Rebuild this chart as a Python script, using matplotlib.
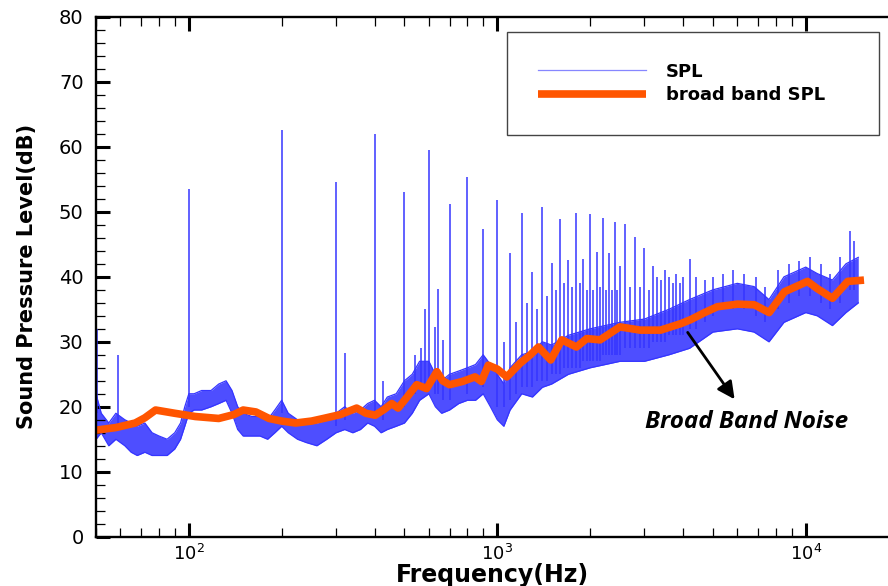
import numpy as np
import matplotlib.pyplot as plt
from matplotlib.lines import Line2D
from matplotlib.ticker import MultipleLocator, LogLocator, NullFormatter

# SPL noise band: frequency, lower edge, upper edge
band_f = [50, 52, 55, 58, 62, 65, 68, 72, 76, 80, 85, 90, 94, 97, 100, 104, 110, 118, 125,
          132, 138, 144, 150, 160, 170, 180, 190, 200, 210, 225, 240, 260, 280, 300, 320, 340,
          360, 380, 400, 420, 440, 470, 500, 530, 560, 600, 630, 660, 700, 750, 800, 850, 900,
          950, 1000, 1050, 1100, 1200, 1300, 1400, 1500, 1700, 2000, 2500, 3000, 3600, 4200,
          5000, 6000, 6800, 7600, 8500, 10000, 10900, 12200, 13500, 14800]
band_lo = [15, 16, 14, 15, 14, 13, 12.5, 13, 12.5, 12.5, 12.5, 13.5, 15, 17, 19, 19.5, 19.5, 20, 20.5,
           21, 19, 16.5, 15.5, 15.5, 15.5, 15, 16, 17, 16, 15, 14.5, 14, 15, 16, 16.5, 16,
           16.5, 17.5, 17, 16, 16.5, 17, 17.5, 19, 21, 22, 20, 19, 19.5, 20.5, 21, 21, 22,
           20, 18, 17, 19.5, 22, 21.5, 23, 23.5, 25, 26, 27, 27, 28, 29,
           31.5, 32, 31.5, 30, 33, 34.5, 34, 32.5, 34.5, 36]
band_hi = [22, 19, 17.5, 19, 18, 17.5, 17, 17.5, 16, 15.5, 15, 16, 17.5, 20, 22, 22, 22.5, 22.5, 23.5,
           24, 22.5, 20, 19, 18.5, 18.5, 18, 19.5, 21, 19, 18, 18, 17.5, 18, 19, 20, 19,
           19.5, 20.5, 21, 20, 21.5, 22, 24, 25, 27, 27, 25, 24, 25, 25.5, 26, 26.5, 28,
           26.5, 25, 23.5, 26, 28, 28.5, 30, 29.5, 31, 32, 33, 33.5, 35, 36.5,
           38, 39, 38.5, 36.5, 40, 41.5, 40.5, 39.5, 42, 43]

# tonal spikes: frequency, base level, peak level
peak_f = [50.5, 59, 100, 200, 300, 320, 400, 427, 500, 540, 565, 583, 600, 626, 644, 669, 700, 800,
          900, 1000, 1050, 1100, 1150, 1200, 1250, 1300, 1350, 1400, 1450, 1500, 1550, 1600,
          1650, 1700, 1750, 1800, 1850, 1900, 1950, 2000, 2050, 2100, 2150, 2200, 2250, 2300,
          2350, 2400, 2450, 2500, 2600, 2700, 2800, 2900, 3000, 3100, 3200, 3300, 3400, 3500,
          3600, 3700, 3800, 3900, 4000, 4200, 4400, 4700, 5000, 5400, 5800, 6300, 6900,
          7400, 8100, 8800, 9500, 10300, 11200, 12000, 12900, 13900, 14300]
peak_base = [19, 17, 20, 19, 17, 18, 19, 18, 20, 22, 23, 23, 24, 22, 22, 21, 21, 22,
             23, 20, 20, 21, 22, 23, 23, 23, 24, 24, 24, 25, 25, 25,
             26, 26, 26, 26, 26, 27, 27, 27, 27, 27, 27, 28, 28, 28,
             28, 28, 28, 28, 29, 29, 29, 29, 29, 29, 30, 30, 30, 30,
             31, 31, 31, 31, 31, 32, 32, 33, 34, 35, 35, 35, 34,
             33, 35, 36, 37, 37, 36, 35, 36, 38, 38]
peak_db = [32, 28, 53.5, 62.6, 54.6, 28.3, 62.0, 23.9, 53.0, 28, 29, 35, 59.5, 32.3, 38.1, 30.3, 51.2, 55.4,
           47.4, 51.9, 30, 43.7, 33, 49.8, 36, 40.7, 35, 50.8, 37, 42.2, 38, 48.9,
           39, 42.6, 38.5, 49.8, 39, 42.7, 38, 49.6, 38, 43.9, 38.5, 49.0, 38, 43.7,
           38, 48.5, 38, 41.6, 48.2, 38.5, 46.1, 38.5, 44.4, 38, 41.6, 40, 39.5, 41,
           40, 39, 40.5, 39, 40, 42.8, 40, 39.5, 40, 40.5, 41, 40.5, 40,
           38.5, 41, 42, 42.5, 43, 42, 40.5, 43, 47, 45.5]

# broad band SPL curve
bb_f = [50, 58, 67, 72, 78, 90, 105, 125, 140, 150, 165, 182, 200, 222, 250, 273, 310, 350,
        375, 402, 430, 455, 477, 510, 548, 590, 637, 665, 700, 772, 847, 888, 935, 1000,
        1074, 1186, 1280, 1360, 1490, 1619, 1806, 1950, 2154, 2497, 2906, 3383, 3937, 4229,
        4700, 5171, 6010, 6812, 7610, 8530, 9300, 10130, 10890, 12210, 13680, 15450]
bb_db = [16.4, 16.8, 17.5, 18.3, 19.5, 19.0, 18.5, 18.2, 18.8, 19.5, 19.2, 18.2, 17.8, 17.5, 17.8,
         18.2, 18.8, 19.8, 19.0, 18.7, 19.6, 20.5, 19.8, 21.5, 23.4, 22.8, 25.4, 24.0, 23.4, 23.9,
         24.6, 23.9, 26.4, 25.8, 24.6, 26.7, 28.0, 29.2, 27.2, 30.3, 29.2, 30.5, 30.3, 32.3, 31.8,
         31.8, 32.8, 33.4, 34.5, 35.4, 35.8, 35.7, 34.5, 37.7, 38.5, 39.3, 38.2, 36.7, 39.3, 39.5]

blue = '#3535ff'
orange = '#ff5500'

fig = plt.figure(figsize=(8.88, 5.86), dpi=100)
ax = fig.add_axes([96 / 888, 1 - 536.7 / 586, 1 - 96 / 888, (536.7 - 17) / 586])

ax.fill_between(band_f, band_lo, band_hi, color=blue, alpha=0.88, lw=0)
ax.plot(band_f, band_lo, color=blue, lw=0.9)
ax.plot(band_f, band_hi, color=blue, lw=0.9)
ax.vlines(peak_f, peak_base, peak_db, color=blue, lw=1.1)
ax.plot(bb_f, bb_db, color=orange, lw=5.5, solid_capstyle='butt')

ax.set_xscale('log')
ax.set_xlim(50, 18480)
ax.set_ylim(0, 80)

# axes look
for s in ['left', 'bottom', 'top']:
    ax.spines[s].set_linewidth(1.7)
ax.spines['right'].set_visible(False)
ax.yaxis.set_major_locator(MultipleLocator(10))
ax.yaxis.set_minor_locator(MultipleLocator(2))
ax.xaxis.set_major_locator(LogLocator(base=10))
ax.xaxis.set_minor_locator(LogLocator(base=10, subs=np.arange(2, 10)))
ax.xaxis.set_minor_formatter(NullFormatter())
ax.tick_params(which='major', direction='in', length=10, width=2.2, top=True, right=False)
ax.tick_params(which='minor', direction='in', length=6.5, width=0.9, top=True, right=False)
ax.tick_params(axis='y', which='major', labelsize=14, pad=9)
ax.tick_params(axis='x', which='major', labelsize=13, pad=5)

ax.set_xlabel('Frequency(Hz)', fontsize=17, fontweight='bold')
ax.set_ylabel('Sound Pressure Level(dB)', fontsize=15, fontweight='bold')
ax.xaxis.set_label_coords(0.5, -0.05)
ax.yaxis.set_label_coords(-0.075, 0.5)

# legend
h_spl = Line2D([], [], color=blue, lw=0.9, alpha=0.6)
h_bb = Line2D([], [], color=orange, lw=5.5, solid_capstyle='butt')
leg = ax.legend([h_spl, h_bb], ['SPL', 'broad band SPL'], loc='upper left',
                bbox_to_anchor=(0.519, 0.771, 0.47, 0.2), mode='expand', borderaxespad=0,
                prop={'weight': 'bold', 'size': 13}, fancybox=False, framealpha=1,
                borderpad=1.7, labelspacing=0.3, handlelength=6.0, handletextpad=1.1)
leg.get_frame().set_edgecolor('#444444')
leg.get_frame().set_linewidth(1.0)

# annotation
ax.annotate('', xy=(5950, 20.8), xytext=(4093, 31.8),
            arrowprops=dict(arrowstyle='-|>', color='black', lw=2, mutation_scale=26))
ax.text(6450, 17.6, 'Broad Band Noise', fontsize=17.5, fontweight='bold', fontstyle='italic',
        family='Open Sans', ha='center', va='center')

fig.savefig('out.png', dpi=100)
